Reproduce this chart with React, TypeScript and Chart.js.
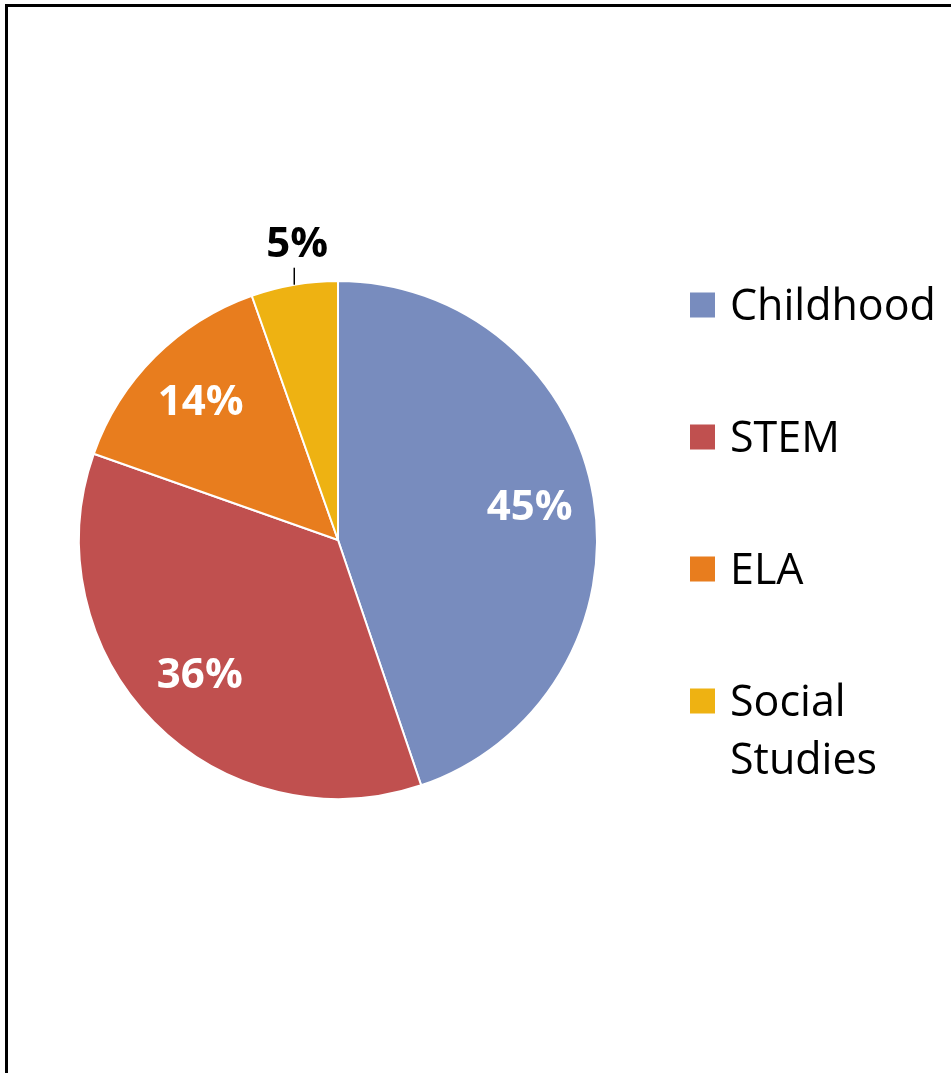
import React, { useEffect, useRef } from "react";
import { Chart, registerables } from "chart.js";

Chart.register(...registerables);

const categories = ["Childhood", "STEM", "ELA", "Social Studies"];
const shares = [44.8, 35.6, 14.2, 5.4];
const colors = ["#788CBE", "#C0504F", "#E87D1E", "#EEB212"];
const labelColors = ["#FFFFFF", "#FFFFFF", "#FFFFFF", "#000000"];
const outsideLabel = [false, false, false, true];

const FONT = "'Open Sans', 'Noto Sans', sans-serif";

const sliceLabelPlugin = {
  id: "sliceLabels",
  afterDatasetsDraw(chart: any) {
    const ctx = chart.ctx as CanvasRenderingContext2D;
    const meta = chart.getDatasetMeta(0);
    const data = chart.data.datasets[0].data as number[];
    const total = data.reduce((a, b) => a + b, 0);
    ctx.save();
    ctx.font = `bold 42px ${FONT}`;
    ctx.textAlign = "center";
    meta.data.forEach((arc: any, i: number) => {
      const { x, y, startAngle, endAngle, outerRadius } = arc.getProps(
        ["x", "y", "startAngle", "endAngle", "outerRadius"],
        true
      );
      const mid = (startAngle + endAngle) / 2;
      const text = Math.round((data[i] / total) * 100) + "%";
      ctx.fillStyle = labelColors[i];
      if (outsideLabel[i]) {
        const px = x + Math.cos(mid) * outerRadius;
        const py = y + Math.sin(mid) * outerRadius;
        ctx.strokeStyle = "#000000";
        ctx.lineWidth = 1.5;
        ctx.beginPath();
        ctx.moveTo(px, py);
        ctx.lineTo(px, py - 17);
        ctx.stroke();
        ctx.textBaseline = "alphabetic";
        ctx.fillText(text, px + 3, py - 28);
      } else {
        const r = outerRadius * 0.75;
        ctx.textBaseline = "middle";
        ctx.fillText(text, x + Math.cos(mid) * r, y + Math.sin(mid) * r);
      }
    });
    ctx.restore();
  },
};

const legendPlugin = {
  id: "sideLegend",
  afterDraw(chart: any) {
    const ctx = chart.ctx as CanvasRenderingContext2D;
    const labels = chart.data.labels as string[];
    const bg = chart.data.datasets[0].backgroundColor as string[];
    const boxX = 690;
    const box = 25;
    const textX = 730;
    const maxW = 951 - textX - 4;
    const firstCenter = 305;
    const step = 132;
    const lineH = 58;
    ctx.save();
    ctx.font = `43px ${FONT}`;
    ctx.textAlign = "left";
    ctx.textBaseline = "alphabetic";
    labels.forEach((lab, i) => {
      const cy = firstCenter + i * step;
      ctx.fillStyle = bg[i];
      ctx.fillRect(boxX, cy - box / 2, box, box);
      const words = lab.split(" ");
      const lines: string[] = [];
      let cur = "";
      words.forEach((w) => {
        const t = cur ? cur + " " + w : w;
        if (cur && ctx.measureText(t).width > maxW) {
          lines.push(cur);
          cur = w;
        } else cur = t;
      });
      if (cur) lines.push(cur);
      ctx.fillStyle = "#000000";
      lines.forEach((ln, j) => {
        ctx.fillText(ln, textX, cy + 15 + j * lineH);
      });
    });
    ctx.restore();
  },
};

export default function App() {
  const ref = useRef<HTMLCanvasElement | null>(null);
  useEffect(() => {
    if (!ref.current) return;
    const chart = new Chart(ref.current, {
      type: "pie",
      data: {
        labels: categories,
        datasets: [
          {
            data: shares,
            backgroundColor: colors,
            borderColor: "#FFFFFF",
            borderWidth: 2,
          },
        ],
      },
      options: {
        responsive: false,
        animation: false,
        devicePixelRatio: 1,
        layout: { padding: { left: 78, right: 353, top: 280, bottom: 273 } },
        plugins: {
          legend: { display: false },
          tooltip: { enabled: false },
        },
      },
      plugins: [sliceLabelPlugin, legendPlugin],
    });
    return () => chart.destroy();
  }, []);
  return (
    <div
      style={{
        position: "fixed",
        left: 0,
        top: 0,
        width: 951,
        height: 1073,
        overflow: "hidden",
        background: "#FFFFFF",
      }}
    >
      <div
        style={{
          position: "absolute",
          left: 5,
          top: 4,
          width: 1200,
          height: 1300,
          borderLeft: "3px solid #000",
          borderTop: "3px solid #000",
        }}
      />
      <canvas
        ref={ref}
        width={951}
        height={1073}
        style={{ position: "absolute", left: 0, top: 0, width: 951, height: 1073 }}
      />
    </div>
  );
}
